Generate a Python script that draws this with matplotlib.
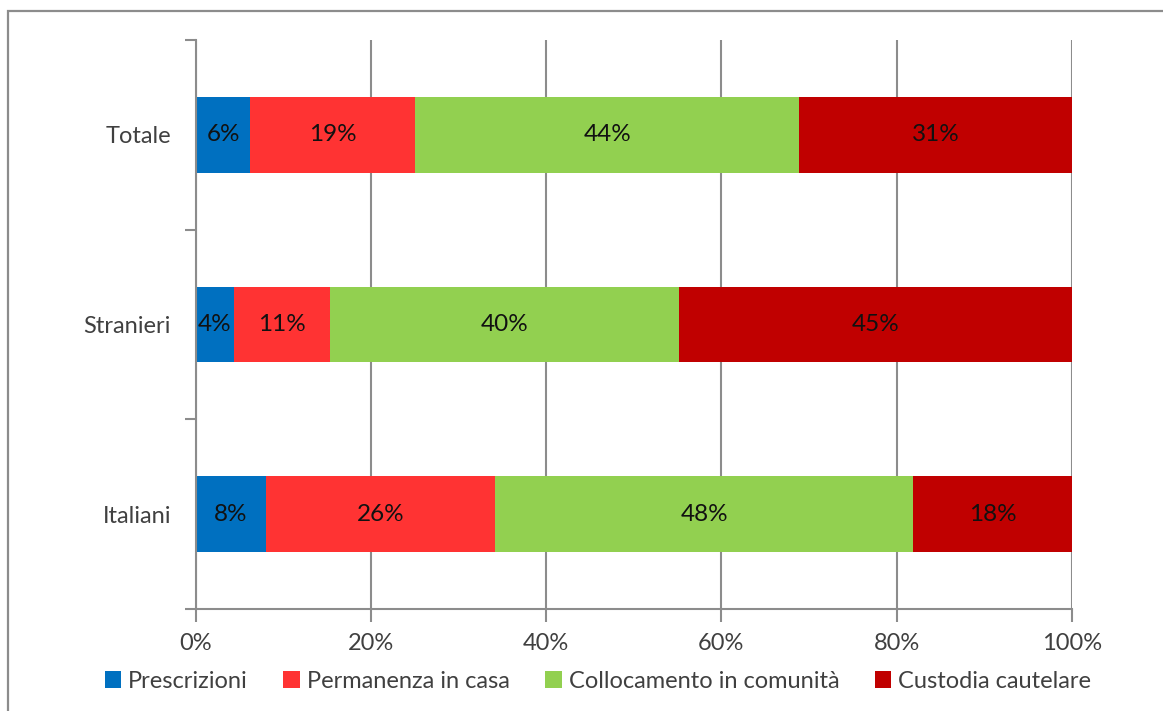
import matplotlib
matplotlib.use("Agg")
import matplotlib.pyplot as plt
from matplotlib.patches import Rectangle
import numpy as np

categories = ["Italiani", "Stranieri", "Totale"]
series_names = ["Prescrizioni", "Permanenza in casa", "Collocamento in comunità", "Custodia cautelare"]
prescrizioni = [8.0, 4.3, 6.2]
permanenza = [26.2, 11.0, 18.8]
collocamento = [47.7, 39.8, 43.9]
custodia = [18.1, 44.9, 31.1]
labels_prescrizioni = ["8%", "4%", "6%"]
labels_permanenza = ["26%", "11%", "19%"]
labels_collocamento = ["48%", "40%", "44%"]
labels_custodia = ["18%", "45%", "31%"]
x_ticks = [0, 20, 40, 60, 80, 100]
x_ticklabels = ["0%", "20%", "40%", "60%", "80%", "100%"]

colors = ["#0070C0", "#FF3333", "#92D050", "#C00000"]
plt.rcParams['font.family'] = ['Lato', 'DejaVu Sans']

W, H = 1163, 711
fig = plt.figure(figsize=(W / 100, H / 100), dpi=100)
fig.patch.set_facecolor("white")

# outer frame
fig.patches.append(Rectangle((8 / W, -0.1), 1.2, 1 - 11 / H + 0.1, transform=fig.transFigure,
                             fill=False, edgecolor="#8C8C8C", linewidth=1.6, zorder=0))

ax = fig.add_axes([196 / W, 1 - 609 / H, (1071.7 - 196) / W, (609 - 40) / H])

series = [prescrizioni, permanenza, collocamento, custodia]
series_labels = [labels_prescrizioni, labels_permanenza, labels_collocamento, labels_custodia]
y = np.arange(len(categories))
left = np.zeros(len(categories))
for name, vals, labs, col in zip(series_names, series, series_labels, colors):
    vals = np.array(vals)
    ax.barh(y, vals, left=left, height=0.4, color=col, label=name, zorder=2)
    for yi, l, v, t in zip(y, left, vals, labs):
        ax.text(l + v / 2, yi, t, ha="center", va="center", fontsize=17.5, color="#111111", zorder=3)
    left = left + vals

ax.set_xlim(0, 100)
ax.set_ylim(-0.5, 2.5)
ax.set_xticks(x_ticks)
ax.set_xticklabels(x_ticklabels, fontsize=17, color="#404040")
ax.set_yticks(y)
ax.set_yticklabels(categories, fontsize=17, color="#404040")
ax.set_yticks([-0.5, 0.5, 1.5, 2.5], minor=True)
ax.tick_params(axis="y", which="major", length=0, pad=18)
ax.tick_params(axis="y", which="minor", length=8, width=1.5, color="#8C8C8C", direction="out")
ax.tick_params(axis="x", which="major", length=9, width=1.5, color="#8C8C8C", direction="out", pad=8)

ax.grid(axis="x", color="#8C8C8C", linewidth=1.5, zorder=1)
ax.set_axisbelow(True)
for s in ["top", "right"]:
    ax.spines[s].set_visible(False)
for s in ["left", "bottom"]:
    ax.spines[s].set_color("#8C8C8C")
    ax.spines[s].set_linewidth(1.5)

leg = fig.legend(loc="center", bbox_to_anchor=(598 / W, 1 - 681 / H), ncol=4, frameon=False,
                 fontsize=17, handlelength=0.7, handleheight=0.7, handletextpad=0.3,
                 columnspacing=1.5, labelcolor="#404040")

fig.savefig("out.png", dpi=100, facecolor="white")
